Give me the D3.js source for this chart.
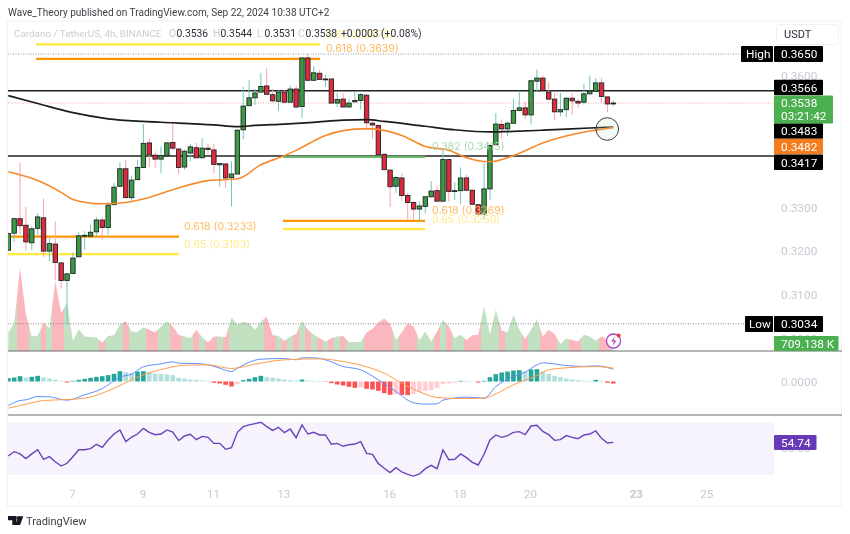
<!DOCTYPE html>
<html><head><meta charset="utf-8">
<script src="https://cdn.jsdelivr.net/npm/d3@7/dist/d3.min.js"></script>
<style>
html,body{margin:0;padding:0;background:#fff;overflow:hidden}
svg{display:block;filter:blur(0.3px)}
text{font-family:Roboto,"Liberation Sans",sans-serif}
.axis path,.axis line{display:none}
</style></head><body><div id="c"></div>
<script>
const open=[.3202,.3241,.3274,.3259,.3219,.3252,.3276,.3200,.3216,.3173,.3133,.3149,.3187,.3234,.3234,.3244,.3271,.3254,.3306,.3348,.3388,.3322,.3363,.3391,.3447,.3419,.3410,.3418,.3448,.3433,.3392,.3424,.3436,.3413,.3435,.3431,.3397,.3399,.3368,.3376,.3477,.3532,.3550,.3563,.3577,.3557,.3542,.3563,.3540,.3570,.3530,.3641,.3590,.3606,.3591,.3593,.3538,.3547,.3529,.3541,.3544,.3556,.3492,.3487,.3421,.3385,.3348,.3367,.3327,.3311,.3296,.3302,.3324,.3338,.3314,.3409,.3336,.3338,.3367,.3339,.3306,.3285,.3342,.3443,.3489,.3479,.3492,.3521,.3527,.3511,.3588,.3595,.3563,.3547,.3518,.3523,.3549,.3542,.3540,.3559,.3565,.3584,.3552,.3536];
const high=[.3240,.3276,.3401,.3301,.3258,.3287,.3320,.3230,.3268,.3175,.3150,.3197,.3243,.3245,.3260,.3278,.3277,.3312,.3356,.3403,.3409,.3372,.3409,.3490,.3458,.3428,.3439,.3449,.3490,.3435,.3432,.3445,.3447,.3458,.3445,.3445,.3400,.3400,.3405,.3478,.3575,.3590,.3570,.3607,.3618,.3570,.3569,.3569,.3578,.3578,.3642,.3650,.3622,.3613,.3603,.3594,.3561,.3560,.3546,.3563,.3561,.3558,.3500,.3489,.3424,.3386,.3372,.3377,.3333,.3314,.3314,.3325,.3360,.3350,.3432,.3410,.3358,.3391,.3374,.3340,.3307,.3400,.3443,.3515,.3500,.3496,.3548,.3565,.3542,.3590,.3614,.3601,.3585,.3561,.3561,.3552,.3561,.3547,.3582,.3601,.3595,.3595,.3552,.3544];
const low=[.3202,.3221,.3238,.3201,.3203,.3236,.3186,.3177,.3133,.3114,.3034,.3147,.3187,.3203,.3233,.3235,.3226,.3238,.3306,.3347,.3322,.3314,.3362,.3391,.3391,.3391,.3378,.3418,.3430,.3376,.3386,.3405,.3412,.3412,.3420,.3377,.3347,.3344,.3302,.3376,.3455,.3531,.3534,.3562,.3557,.3540,.3521,.3538,.3540,.3525,.3504,.3588,.3590,.3591,.3575,.3537,.3529,.3528,.3527,.3538,.3523,.3480,.3456,.3419,.3385,.3301,.3333,.3314,.3272,.3272,.3267,.3286,.3323,.3313,.3313,.3313,.3317,.3307,.3338,.3306,.3276,.3272,.3317,.3442,.3457,.3462,.3491,.3520,.3502,.3490,.3565,.3565,.3547,.3498,.3508,.3506,.3511,.3527,.3534,.3558,.3564,.3538,.3517,.3531];
const close=[.3240,.3274,.3258,.3221,.3251,.3278,.3200,.3217,.3174,.3133,.3148,.3184,.3235,.3236,.3243,.3271,.3254,.3305,.3346,.3388,.3322,.3362,.3391,.3446,.3420,.3410,.3418,.3447,.3435,.3391,.3428,.3438,.3413,.3435,.3432,.3398,.3400,.3367,.3376,.3476,.3531,.3550,.3561,.3576,.3558,.3543,.3563,.3540,.3570,.3529,.3641,.3590,.3607,.3592,.3593,.3538,.3546,.3529,.3538,.3544,.3557,.3493,.3488,.3420,.3386,.3347,.3368,.3327,.3311,.3296,.3303,.3324,.3337,.3314,.3409,.3336,.3338,.3367,.3339,.3307,.3285,.3342,.3441,.3490,.3479,.3492,.3521,.3527,.3511,.3589,.3595,.3567,.3547,.3518,.3523,.3549,.3543,.3538,.3559,.3565,.3584,.3553,.3536,.3538];
const volumeK=[1620,2450,7320,3190,1270,1360,2510,2010,6140,3330,4220,890,1920,1270,1210,1180,740,1330,1390,2300,2630,1710,1680,2090,1860,1620,2150,2600,2150,1420,1270,1120,1860,1210,740,1270,1270,1210,2950,2330,2570,2450,1860,2600,3040,1390,1330,890,1270,1500,2660,1860,1420,1120,830,1120,1270,1330,800,800,800,1620,1950,2510,2860,2390,970,1620,2450,2150,970,1710,830,1710,2740,2150,1120,1420,970,1390,1420,3920,1420,3630,1800,1620,3190,1860,1060,1860,2800,1270,1860,1500,620,1090,970,830,1420,1270,910,1270,970,709];
const macdHist=[10,12,16,12,14,17,12,9,5,2,-3,2,5,8,11,14,16,19,23,31,28,25,30,31,28,24,22,21,19,11,9,6,5,3,2,-4,-6,-10,-15,-8,4,8,13,17,13,11,9,6,4,3,6,3,2,2,-1,-5,-9,-12,-16,-19,-18,-22,-24,-28,-35,-40,-38,-40,-41,-38,-32,-28,-26,-20,-8,-6,-4,2,2,1,-3,2,13,22,27,30,33,34,30,36,37,30,23,17,13,9,6,4,2,2,5,2,-4,-6];
const rsi=[44.4,47.7,46,42.4,46,49.2,41.9,43.9,40.1,36.8,38.9,43.9,49.2,49.2,50,53.3,51,56.6,61.1,64.2,55.3,58.8,61.1,65.4,62.4,60.6,61.1,64.2,62.6,56.1,59.6,60.9,56.8,59.3,58.6,54,54,49.5,50.7,62.4,66.7,68,69,70,66.7,63.9,66.2,62.1,64.9,58.3,68,61.1,62.4,60.4,60.4,53.3,54,51.8,53,53.5,55.3,46.4,45.7,38.6,35.1,31.8,35.6,32.3,30.5,29.2,30.8,34.8,37.3,34.8,49,41.6,41.9,46,43.2,39.6,37.6,45.7,56.6,60.4,58.6,59.9,62.4,62.9,60.6,67.2,67.7,63.1,60.6,56.3,56.8,59.9,58.6,57.6,60.4,61.1,63.4,57.8,54.3,54.74];
const ema200Idx=[0,5,11,17,23,28,35,39,42,47,52,57,61,64,71,76,82,85,91,99,103];
const ema200=[.3555,.3537,.3516,.3502,.3496,.3493,.3488,.3484,.3487,.3490,.3494,.3499,.3500,.3496,.3485,.3477,.3472,.3473,.3476,.3481,.3483];
const ema50Idx=[0,5,9,11,16,20,23,28,34,39,43,47,49,54,60,62,67,71,75,78,82,86,91,99,103];
const ema50=[.3381,.3361,.3334,.3318,.3308,.3311,.3319,.3340,.3361,.3365,.3397,.3418,.3430,.3464,.3479,.3479,.3464,.3439,.3430,.3413,.3404,.3418,.3447,.3474,.3482];
const macdIdx=[0,2,3,5,7,10,13,16,17,19,21,23,26,28,29,32,34,36,38,39,43,47,49,50,52,54,57,60,63,66,69,71,73,74,78,81,83,86,88,90,91,95,98,100,103];
const macdLine=[-72,-57,-55,-45,-46,-56,-40,-21,-10,13,22,44,53,59,55,54,50,40,30,40,67,69,65,71,71,65,45,35,5,-30,-64,-68,-67,-56,-47,-50,-15,15,28,50,56,48,45,47,37];
const signalIdx=[0,3,6,10,13,16,19,22,27,30,34,38,42,47,53,57,61,64,67,71,73,77,81,83,86,90,92,95,100,103];
const signalLine=[-80,-68,-57,-54,-50,-35,-12,13,40,49,50,39,52,65,68,60,44,25,-5,-38,-48,-51,-50,-37,-10,18,35,41,45,40];
const priceTicks=[.36,.33,.32,.31,.30];
const dayTicks=[7,9,11,13,16,18,20,23,25];
const levelsBlack=[.3566,.3417];
const fibA=[{r:"0.65",p:.3672,c:"#ffe93b",t:"#ffeb8a"},{r:"0.618",p:.3639,c:"#ff9800",t:"#ffb95e"}];
const fibB=[{r:"0.618",p:.3233,c:"#ff9800",t:"#ffb95e"},{r:"0.65",p:.3193,c:"#ffe93b",t:"#ffeb8a"}];
const fibC=[{r:"0.382",p:.3415,c:"#69b86c",t:"#a5d6a7"},{r:"0.618",p:.3269,c:"#ff9800",t:"#ffb95e"},{r:"0.65",p:.3250,c:"#ffe93b",t:"#ffeb8a"}];
const legendOHLC=[["O","0.3536"],["H","0.3544"],["L","0.3531"],["C","0.3538"]];

const W=850,H=534;
const svg=d3.select("#c").append("svg").attr("width",W).attr("height",H);
svg.append("defs").append("clipPath").attr("id","pane").append("rect").attr("x",8).attr("y",21).attr("width",766).attr("height",485);
const t0=Date.UTC(2024,8,5,4),H4=4*3600e3;
const tx=d3.scaleUtc().domain([new Date(t0),new Date(t0+103*H4)]).range([8.3,613.3]);
const X=i=>tx(new Date(t0+i*H4));
const y=d3.scaleLinear().domain([.30,.37]).range([207.3+.03*4380,207.3-.04*4380]);
const yVol=d3.scaleLinear().domain([0,8800]).range([351,251]);
const yM=d3.scaleLinear().domain([-90,90]).range([381.5+30,381.5-30]);
const yR=d3.scaleLinear().domain([30,70]).range([475,422.3]);
const idx=d3.range(open.length);
const GREY="#c6c9d1";

// frame
svg.append("rect").attr("x",7.5).attr("y",21).attr("width",834).attr("height",485.5).attr("fill","#fff").attr("stroke","#f1f2f4");

// RSI band
svg.append("rect").attr("x",8).attr("y",yR(70)).attr("width",766).attr("height",yR(30)-yR(70)).attr("fill","#f6f3fc");

// volume with per-candle colour
const grad=svg.append("defs").append("linearGradient").attr("id","vg").attr("gradientUnits","userSpaceOnUse").attr("x1",0).attr("x2",W).attr("y1",0).attr("y2",0);
idx.forEach(i=>{
  const col=close[i]<open[i]?"#fbb7be":"#c2e1c1";
  const a=i===0?8:(X(i-1)+X(i))/2, b=i===103?X(i):(X(i)+X(i+1))/2;
  grad.append("stop").attr("offset",a/W).attr("stop-color",col);
  grad.append("stop").attr("offset",b/W).attr("stop-color",col);
});
svg.append("path").datum(idx).attr("fill","url(#vg)").attr("clip-path","url(#pane)")
  .attr("d",d3.area().x(X).y0(yVol(0)).y1(i=>yVol(volumeK[i]))(idx));

// dotted lines
[[.3650,8,741,"#999"],[.3034,8,745,"#888"],[.3538,8,774,"#f3a6a6"]].forEach(([p,a,b,c])=>{
  svg.append("line").attr("x1",a).attr("x2",b).attr("y1",y(p)).attr("y2",y(p)).attr("stroke",c).attr("stroke-width",1).attr("stroke-dasharray","1 1.5");
});

// black levels
levelsBlack.forEach(p=>svg.append("line").attr("x1",8).attr("x2",774).attr("y1",y(p)).attr("y2",y(p)).attr("stroke","#222").attr("stroke-width",1.5));

// fib lines
const fibLine=(d,a,b)=>svg.append("line").attr("x1",a).attr("x2",b).attr("y1",y(d.p)).attr("y2",y(d.p)).attr("stroke",d.c).attr("stroke-width",2.2);
const fibText=(d,x)=>svg.append("text").attr("x",x).attr("y",y(d.p)-6.5).attr("font-size",10.6).attr("fill",d.t).style("font-family","Inter").text(`${d.r} (${d.p.toFixed(4)})`);
fibA.forEach(d=>{fibLine(d,36,320);});
fibB.forEach(d=>{fibLine(d,8,179);fibText(d,184);});
fibC.forEach(d=>{fibLine(d,283,425);});

// wicks + bodies
const candle=svg.append("g").attr("clip-path","url(#pane)");
candle.selectAll("line").data(idx).join("line")
  .attr("x1",X).attr("x2",X).attr("y1",i=>y(high[i])).attr("y2",i=>y(low[i]))
  .attr("stroke",i=>close[i]<open[i]?"#f8a2aa":"#70c6bb").attr("stroke-width",1);
candle.selectAll("rect").data(idx).join("rect")
  .attr("x",i=>X(i)-2.2).attr("width",4.4)
  .attr("y",i=>y(Math.max(open[i],close[i])))
  .attr("height",i=>Math.max(.8,Math.abs(y(open[i])-y(close[i]))))
  .attr("fill",i=>close[i]<open[i]?"#e0293d":"#3b9a45")
  .attr("stroke","#202422").attr("stroke-width",.9);

// moving averages
const ln=(xs,ys,yy)=>d3.line().x((_, k)=>X(xs[k])).y((_, k)=>yy(ys[k])).curve(d3.curveMonotoneX)(xs);
svg.append("path").attr("fill","none").attr("stroke","#1c1c1c").attr("stroke-width",1.7).attr("d",ln(ema200Idx,ema200,y));
svg.append("path").attr("fill","none").attr("stroke","#f58b2c").attr("stroke-width",1.6).attr("d",ln(ema50Idx,ema50,y));

// circle annotation
svg.append("circle").attr("cx",607.3).attr("cy",129).attr("r",11.3).attr("fill","rgba(190,225,195,.18)").attr("stroke","#3c3f44").attr("stroke-width",1);

// fib labels that float above the candles
fibA.forEach(d=>fibText(d,326));
fibC.forEach(d=>fibText(d,432));

// pane separators
[351,415].forEach(v=>svg.append("line").attr("x1",8).attr("x2",842).attr("y1",v).attr("y2",v).attr("stroke","#6a6d74").attr("stroke-width",1));

// MACD
const histCol=(v,i)=>{const p=i?macdHist[i-1]:v-1;return v>=0?(v>p?"#26a69a":"#b2dfdb"):(v>p?"#ffcdd2":"#ff5252");};
svg.append("g").attr("clip-path","url(#pane)").selectAll("rect").data(macdHist).join("rect")
  .attr("x",(_, i)=>X(i)-2.3).attr("width",4.6)
  .attr("y",v=>Math.min(yM(v),yM(0))).attr("height",v=>Math.abs(yM(v)-yM(0)))
  .attr("fill",histCol);
svg.append("path").attr("fill","none").attr("stroke","#5f8ffb").attr("stroke-width",1).attr("d",ln(macdIdx,macdLine,yM));
svg.append("path").attr("fill","none").attr("stroke","#ff9d4e").attr("stroke-width",1).attr("d",ln(signalIdx,signalLine,yM));

// RSI
svg.append("path").attr("fill","none").attr("stroke","#6b42b8").attr("stroke-width",1.4)
  .attr("d",d3.line().x(X).y(i=>yR(rsi[i]))(idx));

// axes
const xAxis=d3.axisBottom(tx).tickValues(dayTicks.map(d=>new Date(Date.UTC(2024,8,d)))).tickFormat(d3.utcFormat("%-d")).tickSize(0).tickPadding(0);
const gx=svg.append("g").attr("class","axis").attr("transform","translate(-1,490)").call(xAxis);
gx.selectAll("text").attr("fill",GREY).attr("font-size",11.5).style("font-family","Roboto")
  .attr("font-weight",d=>d.getUTCDate()===23?700:400);
const yAxis=d3.axisRight(y).tickValues(priceTicks).tickFormat(d3.format(".4f")).tickSize(0).tickPadding(7);
const gy=svg.append("g").attr("class","axis").attr("transform","translate(774,0)").call(yAxis);
gy.selectAll("text").attr("fill",GREY).attr("font-size",11.8).style("font-family","Roboto");
svg.append("text").attr("x",781).attr("y",385.5).attr("fill",GREY).attr("font-size",11.8).text("0.0000");
svg.append("text").attr("x",781).attr("y",452).attr("fill",GREY).attr("font-size",11.8).text("50.00");

// price boxes
const box=(x,yc,w,h,fill,txt,opts={})=>{
  svg.append("rect").attr("x",x).attr("y",yc-h/2).attr("width",w).attr("height",h).attr("rx",opts.rx||1).attr("fill",fill);
  svg.append("text").attr("x",x+(opts.dx||7)).attr("y",yc+4.2).attr("fill","#fff").attr("font-size",11.8).text(txt);
};
box(741,54,32,16,"#000","High",{dx:5});
box(774,54,49,16,"#000","0.3650");
box(774,87.5,49,15.5,"#000","0.3566");
box(774,131,49,15.5,"#000","0.3483");
box(774,146.5,49,15.5,"#f57c1f","0.3482");
box(774,162.3,49,15.5,"#000","0.3417");
box(745,324,28,16,"#000","Low",{dx:4});
box(774,324,49,16,"#000","0.3034");
svg.append("rect").attr("x",774).attr("y",95.5).attr("width",59).attr("height",28).attr("rx",1).attr("fill","#4caf50");
svg.append("text").attr("x",781).attr("y",107).attr("fill","#fff").attr("font-size",11.8).text("0.3538");
svg.append("text").attr("x",781).attr("y",120).attr("fill","#fff").attr("font-size",11.8).text("03:21:42");
box(774,343.5,64.5,15,"#4caf50","709.138 K");
box(774,442.5,42.5,15,"#673ab7","54.74");

// USDT box
svg.append("rect").attr("x",776.5).attr("y",24.5).attr("width",62).attr("height",20).attr("rx",3).attr("fill","#fff").attr("stroke","#f0f1f3");
svg.append("text").attr("x",784).attr("y",38.2).attr("fill","#2a2e39").attr("font-size",11).text("USDT");

// header
svg.append("text").attr("x",8).attr("y",16).attr("fill","#3d3f45").attr("font-size",10.05).text("Wave_Theory published on TradingView.com, Sep 22, 2024 10:38 UTC+2");
svg.append("text").attr("x",14).attr("y",37.2).attr("fill","#c9ccd3").attr("font-size",9.9).text("Cardano / TetherUS, 4h, BINANCE");
const lx=[169,213,257,298];
legendOHLC.forEach(([k,v],i)=>{
  svg.append("text").attr("x",lx[i]).attr("y",37.2).attr("fill","#c9ccd3").attr("font-size",10.3).text(k);
  svg.append("text").attr("x",lx[i]+7.5).attr("y",37.2).attr("fill","#2a2e39").attr("font-size",10.3).text(v);
});
svg.append("text").attr("x",341).attr("y",37.2).attr("fill","#2a2e39").attr("font-size",10.3).text("+0.0003 (+0.08%)");

// lightning icon
svg.append("circle").attr("cx",613.5).attr("cy",341).attr("r",7).attr("fill","#fff").attr("stroke","#ab47bc").attr("stroke-width",1.3);
svg.append("path").attr("d","M615 336.5l-4 5h3l-1.5 4.5 4-5.5h-3z").attr("fill","#ab47bc");
svg.append("circle").attr("cx",618.7).attr("cy",335.5).attr("r",1.9).attr("fill","#f23645");

// logo
svg.append("path").attr("fill","#131722").attr("d","M8 516h8.5v9h-4.2v-4.7H8zM18.5 516.2h4.8l-3.2 8.8h-4.4z");
svg.append("circle").attr("cx",18.2).attr("cy",518).attr("r",1.8).attr("fill","#131722");
svg.append("text").attr("x",26).attr("y",524.5).attr("fill","#3a3d44").attr("font-size",11).text("TradingView");
</script></body></html>
